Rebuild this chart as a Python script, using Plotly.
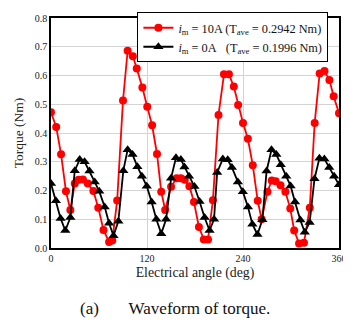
import plotly.graph_objects as go

# Red series: i_m = 10A
red_deg = [0, 6.5, 12.6, 18.7, 24.2, 29.7, 34.6, 39.9, 46.0, 53.0, 59.1, 65.6, 72.6, 76.6,
           82.7, 90.0, 95.8, 102.3, 107.2, 114.2, 120.3, 126.4, 132.5, 137.8, 142.7,
           150.1, 157.0, 162.3, 167.2, 173.0, 178.7, 184.9, 191.0, 196.3, 202.4, 209.4,
           216.2, 222.4, 228.5, 233.9, 240.0, 246.1, 252.2, 258.4, 263.3,
           270.6, 275.9, 280.8, 286.9, 293.0, 299.1, 304.0, 310.1, 316.2, 323.5, 329.6,
           335.8, 341.9, 348.0, 353.3, 360]
red_val = [0.472, 0.421, 0.326, 0.197, 0.132, 0.224, 0.237, 0.238, 0.224, 0.198, 0.140, 0.063, 0.021, 0.026,
           0.165, 0.513, 0.686, 0.667, 0.624, 0.558, 0.491, 0.427, 0.327, 0.196, 0.132,
           0.213, 0.243, 0.243, 0.237, 0.215, 0.160, 0.073, 0.030, 0.030, 0.166, 0.463,
           0.604, 0.604, 0.562, 0.497, 0.435, 0.380, 0.288, 0.164, 0.100,
           0.196, 0.235, 0.232, 0.218, 0.196, 0.137, 0.061, 0.016, 0.018, 0.140, 0.435,
           0.607, 0.616, 0.584, 0.528, 0.469]

# Black series: i_m = 0A
blk_deg = [0, 6.1, 12.0, 17.9, 24.2, 29.7, 35.9, 42.0, 48.1, 54.6, 60.3, 67.1, 72.6, 78.1,
           84.2, 90.4, 95.8, 101.9, 108.0, 113.6, 119.7, 125.8, 131.7, 137.8, 143.9,
           150.1, 156.2, 162.3, 166.8, 172.5, 179.3, 185.7, 192.0, 198.2, 203.8, 207.7,
           214.8, 220.9, 226.1, 233.6, 239.8, 246.2, 251.7, 258.1, 264.2, 269.5,
           275.6, 281.7, 287.2, 294.0, 299.5, 305.0, 311.7, 317.2, 323.3, 329.4,
           335.5, 341.7, 347.8, 353.9, 360]
blk_val = [0.224, 0.164, 0.103, 0.061, 0.106, 0.269, 0.308, 0.300, 0.268, 0.230, 0.197, 0.143, 0.086, 0.043,
           0.093, 0.269, 0.342, 0.325, 0.283, 0.250, 0.215, 0.160, 0.100, 0.050, 0.100,
           0.243, 0.314, 0.308, 0.282, 0.250, 0.214, 0.162, 0.106, 0.061, 0.100, 0.263,
           0.310, 0.307, 0.280, 0.230, 0.196, 0.143, 0.083, 0.047, 0.098, 0.268,
           0.342, 0.325, 0.290, 0.250, 0.216, 0.160, 0.097, 0.055, 0.089, 0.241,
           0.312, 0.310, 0.280, 0.250, 0.220]

x_ticks = [0, 120, 240, 360]
y_ticks = [0.0, 0.1, 0.2, 0.3, 0.4, 0.5, 0.6, 0.7, 0.8]

name_red = "<i>i</i><sub>m</sub> = 10A (T<sub>ave</sub> = 0.2942 Nm)"
name_blk = "<i>i</i><sub>m</sub> = 0A&nbsp;&nbsp;&nbsp;(T<sub>ave</sub> = 0.1996 Nm)"

FONT = "Liberation Serif, Times New Roman, serif"

fig = go.Figure()
fig.add_trace(go.Scatter(x=red_deg, y=red_val, mode="lines+markers", name=name_red,
                         line=dict(color="#ff0000", width=1.8),
                         marker=dict(symbol="circle", size=8, color="#ff0000")))
fig.add_trace(go.Scatter(x=blk_deg, y=blk_val, mode="lines+markers", name=name_blk,
                         line=dict(color="#000000", width=1.8),
                         marker=dict(symbol="triangle-up", size=9, color="#000000")))

# The page adds an 8px body margin, so the figure is sized to fit the 351x320 window.
fig.update_layout(
    width=343, height=312,
    margin=dict(l=43, r=6, t=4, b=72),
    paper_bgcolor="white", plot_bgcolor="white",
    font=dict(family=FONT, color="#222222", size=10),
    showlegend=True,
    legend=dict(x=0.30, y=1.025, xanchor="left", yanchor="top",
                bgcolor="white", bordercolor="black", borderwidth=1,
                font=dict(family=FONT, size=12.3, color="#111111"),
                tracegroupgap=0, itemwidth=30),
    xaxis=dict(range=[0, 360], tickvals=x_ticks, ticks="", showgrid=True,
               gridcolor="#d4d4d4", gridwidth=1, zeroline=False,
               showline=True, linecolor="black", linewidth=1.5, mirror=True,
               ticklabeloverflow="allow",
               tickfont=dict(size=10, family=FONT),
               title=dict(text="Electrical angle (deg)", font=dict(size=13.8, family=FONT), standoff=5)),
    yaxis=dict(range=[0, 0.8], tickvals=y_ticks, tickformat=".1f", ticks="", showgrid=True,
               gridcolor="#d4d4d4", gridwidth=1, zeroline=False,
               showline=True, linecolor="black", linewidth=1.5, mirror=True,
               ticklabeloverflow="allow",
               tickfont=dict(size=10, family=FONT),
               title=dict(text="Torque (Nm)", font=dict(size=13.5, family=FONT), standoff=8)),
    annotations=[dict(text="(a)" + "&nbsp;" * 7 + "Waveform of torque.",
                      xref="paper", yref="paper", x=0.432, y=-0.263, xanchor="center", yanchor="middle",
                      showarrow=False, font=dict(size=17, family=FONT, color="#111111"))],
)

fig.write_html("out.html")
